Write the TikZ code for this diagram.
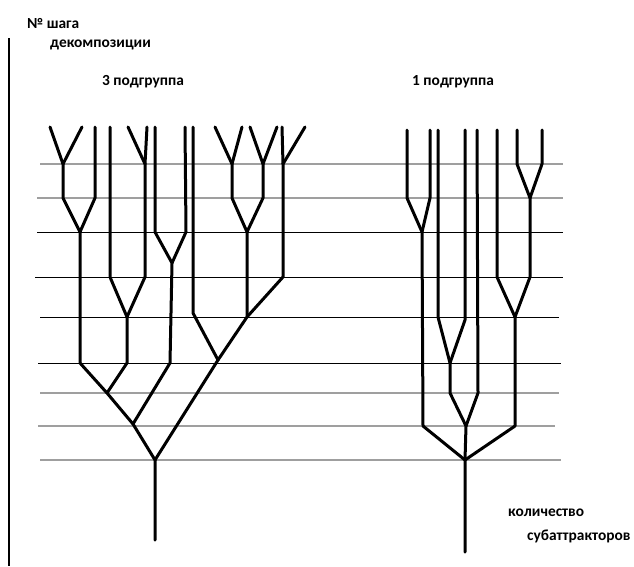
\documentclass[tikz,border=0pt]{standalone}
\usepackage{fontspec}
\setmainfont{Carlito}
\begin{document}
\begin{tikzpicture}[x=1pt,y=-1pt,
  level/.style={line width=0.9pt},
  levelgray/.style={line width=1.3pt,gray!75},
  branch/.style={line width=3pt,line cap=round,line join=round},
  axis/.style={line width=1.4pt},
  lbl/.style={font=\bfseries\fontsize{15.4}{18}\selectfont,anchor=west,inner sep=0pt}]
\useasboundingbox (0,0) rectangle (634,566);
% axis
\draw[axis] (9,38) -- (9,566);
% horizontal level lines
\draw[levelgray] (40,164) -- (563,164);
\draw[levelgray] (37,198) -- (563,198);
\draw[level] (37,232) -- (563,232);
\draw[level] (35,277) -- (563,277);
\draw[level] (40,317) -- (559,317);
\draw[level] (38,363) -- (561,363);
\draw[levelgray] (40,393) -- (559,393);
\draw[levelgray] (38,426) -- (555,426);
\draw[levelgray] (40,460) -- (561,460);
% labels
\node[lbl] (t1) at (27,23) {№ шага};
\node[lbl] (t2) at (50,45) {декомпозиции};
\node[lbl] (t3) at (102,82) {3 подгруппа};
\node[lbl] (t4) at (412,82) {1 подгруппа};
\node[lbl] (t5) at (508,513) {количество};
\node[lbl] (t6) at (527,536) {субаттракторов};
% left tree (3 subgroup)
\draw[branch] (50,127)--(63,164)--(63,198)--(80,232)--(80,363)--(107,393)--(133,424)--(155,460)--(155,540);
\draw[branch] (82,127)--(63,164);
\draw[branch] (95,127)--(95,198)--(80,232);
\draw[branch] (110,127)--(110,277)--(127,317)--(127,363)--(107,393);
\draw[branch] (128,127)--(145,164)--(145,277)--(127,317);
\draw[branch] (147,127)--(145,164);
\draw[branch] (155,127)--(155,232)--(172,263)--(170,363)--(133,424);
\draw[branch] (185,127)--(186,232)--(172,263);
\draw[branch] (193,127)--(193,313)--(218,360)--(155,460);
\draw[branch] (215,127)--(232,164)--(232,198)--(247,232)--(247,317)--(218,360);
\draw[branch] (242,127)--(232,164);
\draw[branch] (250,127)--(263,164)--(263,198)--(247,232);
\draw[branch] (277,127)--(263,164);
\draw[branch] (305,127)--(283,164)--(283,277)--(247,317);
\draw[branch] (282,127)--(283,164);
% right tree (1 subgroup)
\draw[branch] (407,130)--(407,198)--(422,232)--(423,426)--(465,460)--(465,552);
\draw[branch] (430,130)--(430,198)--(422,232);
\draw[branch] (438,130)--(438,317)--(450,363)--(450,393)--(466,426)--(465,460);
\draw[branch] (465,130)--(465,320)--(450,363);
\draw[branch] (477,130)--(478,393)--(466,426);
\draw[branch] (497,130)--(497,277)--(515,317)--(515,426)--(465,460);
\draw[branch] (517,130)--(517,164)--(530,198)--(530,277)--(515,317);
\draw[branch] (542,130)--(542,164)--(530,198);
\end{tikzpicture}
\end{document}
